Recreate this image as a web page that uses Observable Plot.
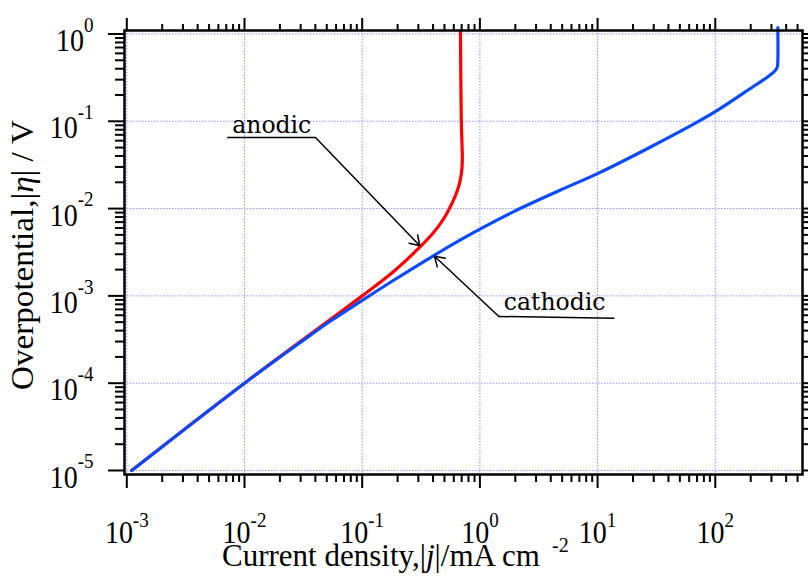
<!DOCTYPE html>
<html>
<head>
<meta charset="utf-8">
<script src="https://cdn.jsdelivr.net/npm/d3@7"></script>
<script src="https://cdn.jsdelivr.net/npm/@observablehq/plot@0.6"></script>
<style>
  html, body { margin: 0; padding: 0; background: #fff; }
  #chart svg { display: block; overflow: visible; }
</style>
</head>
<body>
<div id="chart"></div>
<script>
// Polarisation curves: |overpotential| against |current density| on log–log axes.

// Anodic branch (mA cm^-2, V)
const anodicJ   = [1.1e-3, 0.01, 0.1, 0.185, 0.313, 0.404, 0.491, 0.562, 0.620, 0.664, 0.690, 0.706, 0.709, 0.703, 0.695, 0.689, 0.684];
const anodicEta = [1.0e-5, 1.0e-4, 1.0e-3, 1.905e-3, 3.68e-3, 5.32e-3, 7.6e-3, 1.057e-2, 1.413e-2, 1.84e-2, 2.33e-2, 3.04e-2, 4.06e-2, 6.03e-2, 0.102, 0.293, 1.1];

// Cathodic branch (mA cm^-2, V)
const cathodicJ   = [1.1e-3, 0.01, 0.0317, 0.0538, 0.1, 0.185, 0.406, 0.684, 1.01, 1.94, 4.84, 10.2, 26.4, 70.2, 104, 187, 314, 336, 340, 340];
const cathodicEta = [1.0e-5, 1.0e-4, 3.11e-4, 5.15e-4, 8.87e-4, 1.51e-3, 2.9e-3, 4.37e-3, 5.85e-3, 9.23e-3, 1.63e-2, 2.55e-2, 4.85e-2, 9.77e-2, 0.133, 0.225, 0.365, 0.416, 0.497, 1.18];

// Decade exponents used for major ticks, grid lines and tick labels
const xExponents = [-3, -2, -1, 0, 1, 2];
const yExponents = [-5, -4, -3, -2, -1, 0];

// Callout labels: text anchor, underline ends, and the curve point each arrow points at
const calloutText      = ["anodic", "cathodic"];
const calloutTextJ     = [7.87e-3, 1.596];
const calloutTextEta   = [0.0743, 6.94e-4];
const underlineJ1      = [7.13e-3, 1.45];
const underlineEta1    = [0.0651, 5.81e-4];
const underlineJ2      = [0.0401, 13.9];
const underlineEta2    = [0.0651, 5.56e-4];
const arrowFromJ       = [0.0401, 1.45];
const arrowFromEta     = [0.0651, 5.81e-4];
const arrowTargetIndex = [4, 6];

const anodic = anodicJ.map((j, i) => ({j, eta: anodicEta[i]}));
const cathodic = cathodicJ.map((j, i) => ({j, eta: cathodicEta[i]}));
const curves = [anodic, cathodic];
const callouts = calloutText.map((text, i) => {
  const target = curves[i][arrowTargetIndex[i]];
  return {
    text,
    tj: calloutTextJ[i], teta: calloutTextEta[i],
    uj1: underlineJ1[i], ueta1: underlineEta1[i],
    uj2: underlineJ2[i], ueta2: underlineEta2[i],
    aj: arrowFromJ[i], aeta: arrowFromEta[i],
    bj: target.j, beta: target.eta
  };
});

const xMajor = xExponents.map(e => 10 ** e);
const yMajor = yExponents.map(e => 10 ** e);
const minorOf = (exps, hi) => exps.flatMap(e => d3.range(2, 10).map(m => m * 10 ** e)).filter(v => v < hi);
const xMinor = minorOf(xExponents, 5.5e2);
const yMinor = minorOf(yExponents, 1);
const expLabel = d => String(Math.round(Math.log10(d)));

const gridColor = "#9494ff";
const serif = "'Liberation Serif', 'Times New Roman', serif";

const tickAxis = (fn, ticks, anchor, size) =>
  fn({ticks, anchor, tickSize: size, strokeWidth: 2, stroke: "black", fill: "none", label: null});

const plot = Plot.plot({
  width: 808,
  height: 579,
  marginLeft: 124,
  marginRight: 6,
  marginTop: 30,
  marginBottom: 105,
  style: {fontFamily: serif, fontSize: "28px", background: "white", color: "black", overflow: "visible"},
  x: {type: "log", domain: [10 ** -3.0195, 10 ** 2.741], axis: null, label: null},
  y: {type: "log", domain: [10 ** -5.046, 10 ** 0.04], axis: null, label: null},
  marks: [
    Plot.gridX(xMajor, {stroke: gridColor, strokeOpacity: 1, strokeWidth: 1, strokeDasharray: "1.5,1.5"}),
    Plot.gridY(yMajor, {stroke: gridColor, strokeOpacity: 1, strokeWidth: 1, strokeDasharray: "1.5,1.5"}),

    Plot.line(anodic, {x: "j", y: "eta", stroke: "#ff0000", strokeWidth: 3.2, curve: "catmull-rom", strokeLinejoin: "round"}),
    Plot.line(cathodic, {x: "j", y: "eta", stroke: "#0a4bff", strokeWidth: 3.2, curve: "catmull-rom", strokeLinejoin: "round"}),

    Plot.frame({stroke: "black", strokeWidth: 2.5}),

    tickAxis(Plot.axisX, xMajor, "bottom", 14),
    tickAxis(Plot.axisX, xMinor, "bottom", 8),
    tickAxis(Plot.axisX, xMajor, "top", 13),
    tickAxis(Plot.axisX, xMinor, "top", 7),
    tickAxis(Plot.axisY, yMajor, "left", 16),
    tickAxis(Plot.axisY, yMinor, "left", 9),
    tickAxis(Plot.axisY, yMajor, "right", 14),
    tickAxis(Plot.axisY, yMinor, "right", 8),

    Plot.axisX({ticks: xMajor, anchor: "bottom", tickSize: 0, tickPadding: 46, tickFormat: expLabel, fontSize: 28, label: null}),
    Plot.axisY({ticks: yMajor, anchor: "left", tickSize: 0, tickPadding: 31, tickFormat: expLabel, fontSize: 28, label: null}),

    // callouts
    Plot.link(callouts, {x1: "uj1", y1: "ueta1", x2: "uj2", y2: "ueta2", stroke: "black", strokeWidth: 1.5}),
    Plot.arrow(callouts, {x1: "aj", y1: "aeta", x2: "bj", y2: "beta", stroke: "black", strokeWidth: 1.5, headLength: 11, headAngle: 65, insetEnd: 1}),
    Plot.text(callouts, {x: "tj", y: "teta", text: "text", textAnchor: "start", lineAnchor: "bottom", fontFamily: "'DejaVu Serif', serif", fontSize: 23.5, fill: "black"})
  ]
});

document.getElementById("chart").appendChild(plot);
const svg = d3.select(plot);

// The tick numerals are drawn slightly tall, as in the printed figure
const tall = 1.15;
function stretch(el) {
  const tr = el.getAttribute("transform");
  if (tr) el.setAttribute("transform", `${tr} scale(1,${tall})`);
}

// Tick labels as 10 with a raised exponent
svg.selectAll('g[aria-label="x-axis tick label"] text').each(function () {
  const e = this.textContent;
  const t = d3.select(this).text(null).style("font-size", "28px");
  t.append("tspan").text("10");
  t.append("tspan").attr("dy", -14).style("font-size", "19px").text(e);
  stretch(this);
});
svg.selectAll('g[aria-label="y-axis tick label"] text').each(function () {
  const e = this.textContent;
  const t = d3.select(this).text(null).style("font-size", "28px");
  t.append("tspan").attr("dy", 6).text("10");
  t.append("tspan").attr("dy", -17).style("font-size", "19px").text(e);
  stretch(this);
});

// Axis titles
const xt = svg.append("text")
  .attr("x", 222).attr("y", 566).attr("text-anchor", "start")
  .attr("font-family", serif).style("font-size", "31px").attr("fill", "black");
xt.append("tspan").text("Current density,|");
xt.append("tspan").attr("font-style", "italic").text("j");
xt.append("tspan").text("|/mA cm");
svg.append("text")
  .attr("x", 552).attr("y", 552).attr("text-anchor", "start")
  .attr("font-family", serif).style("font-size", "20px").attr("fill", "black")
  .text("-2");

const yt = svg.append("text")
  .attr("transform", "translate(33,390) rotate(-90)").attr("text-anchor", "start")
  .attr("font-family", serif).style("font-size", "31px").attr("fill", "black")
  .attr("textLength", 270).attr("lengthAdjust", "spacingAndGlyphs");
yt.append("tspan").text("Overpotential,|");
yt.append("tspan").attr("font-style", "italic").text("η");
yt.append("tspan").text("| / V");
</script>
</body>
</html>
